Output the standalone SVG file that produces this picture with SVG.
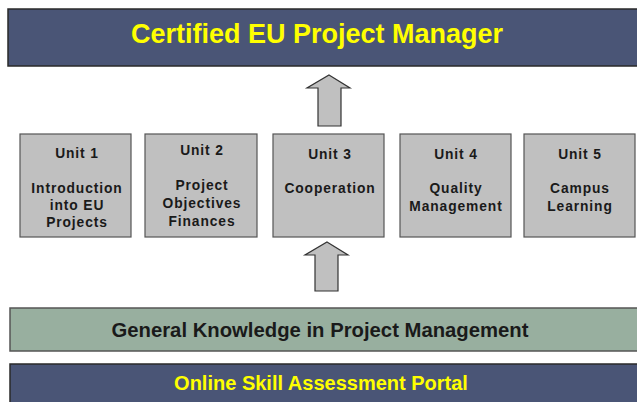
<svg xmlns="http://www.w3.org/2000/svg" width="637" height="402" viewBox="0 0 637 402">
<style>
.bar{fill:#4a5576;stroke:#2a2a2a;stroke-width:1.5}
.green{fill:#98af9f;stroke:#555;stroke-width:1.5}
.unit{fill:#c0c0c0;stroke:#555;stroke-width:1.2}
.arrow{fill:#c0c0c0;stroke:#333;stroke-width:1.2}
.ut{font-family:"Liberation Sans",Arial,sans-serif;font-weight:bold;font-size:13.8px;letter-spacing:0.9px;fill:#1a1a1a;text-anchor:middle}
.yt{font-family:"Liberation Sans",Arial,sans-serif;font-weight:bold;fill:#ffff00;text-anchor:middle}
</style>
<rect width="637" height="402" fill="#fff"/>
<g id="title"><rect class="bar" x="8" y="9" width="632" height="57"/><text class="yt" x="317" y="43" font-size="27">Certified EU Project Manager</text></g>
<g id="connectors">
<path class="arrow" d="M329,75 L350,88 L341,88 L341,126 L318,126 L318,88 L307,88 Z"/>
<path class="arrow" d="M327,242 L348,255 L338,255 L338,291 L315,291 L315,255 L305,255 Z"/>
</g>
<g id="unit1"><rect class="unit" x="20" y="134" width="111" height="103"/><text class="ut" x="77" y="158">Unit 1</text><text class="ut" x="77" y="193">Introduction</text><text class="ut" x="77" y="210">into EU</text><text class="ut" x="77" y="227">Projects</text></g>
<g id="unit2"><rect class="unit" x="145" y="134" width="112" height="103"/><text class="ut" x="202" y="155">Unit 2</text><text class="ut" x="202" y="190">Project</text><text class="ut" x="202" y="208">Objectives</text><text class="ut" x="202" y="226">Finances</text></g>
<g id="unit3"><rect class="unit" x="273" y="134" width="111" height="103"/><text class="ut" x="330" y="159">Unit 3</text><text class="ut" x="330" y="193">Cooperation</text></g>
<g id="unit4"><rect class="unit" x="400" y="134" width="111" height="103"/><text class="ut" x="456" y="159">Unit 4</text><text class="ut" x="456" y="193">Quality</text><text class="ut" x="456" y="211">Management</text></g>
<g id="unit5"><rect class="unit" x="524" y="134" width="111" height="103"/><text class="ut" x="580" y="159">Unit 5</text><text class="ut" x="580" y="193">Campus</text><text class="ut" x="580" y="211">Learning</text></g>
<g id="general"><rect class="green" x="10" y="308" width="630" height="43"/><text x="320" y="337" font-family="Liberation Sans,Arial,sans-serif" font-weight="bold" font-size="20.3" fill="#1a1a1a" text-anchor="middle">General Knowledge in Project Management</text></g>
<g id="portal"><rect class="bar" x="10" y="364" width="630" height="42"/><text class="yt" x="321" y="390" font-size="20">Online Skill Assessment Portal</text></g>
</svg>
